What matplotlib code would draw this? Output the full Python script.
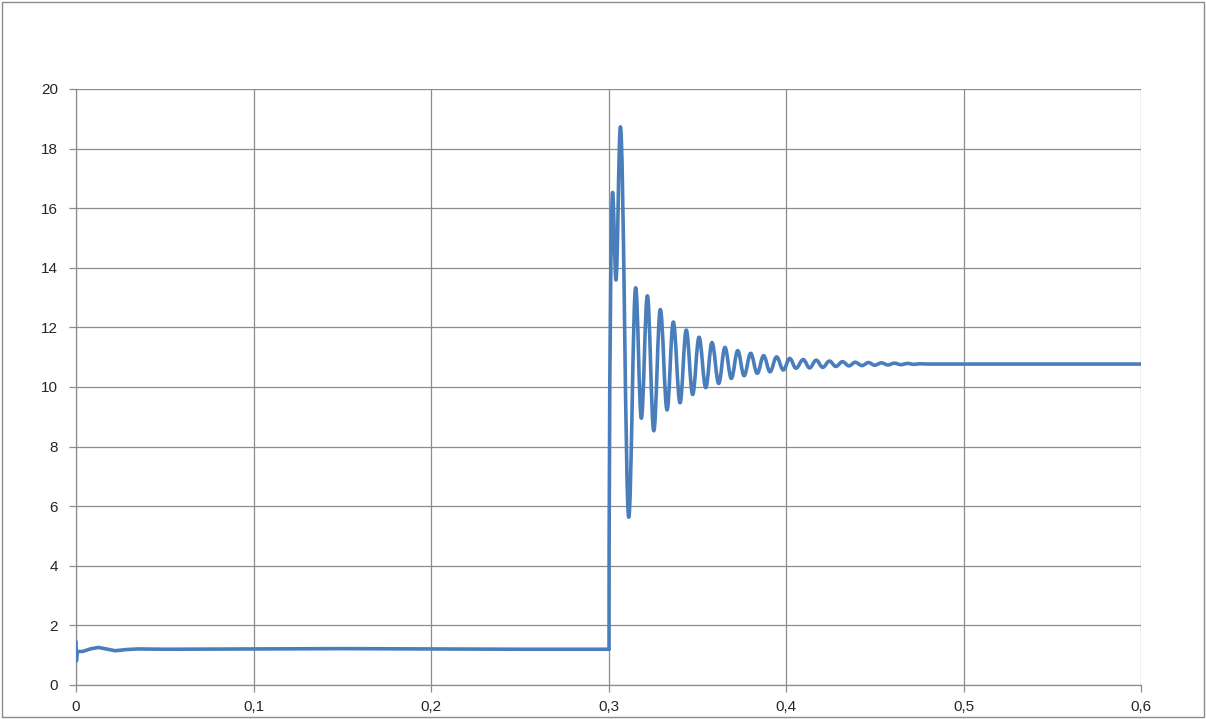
import matplotlib.pyplot as plt
from matplotlib.patches import Rectangle, PathPatch
from matplotlib.path import Path

# time (s) and value
t_start = [0.0, 0.0002, 0.0008, 0.004, 0.008, 0.0126, 0.017, 0.022, 0.0286,
           0.035, 0.05, 0.1, 0.15, 0.2, 0.25, 0.3003]
v_start = [1.45, 0.81, 1.12, 1.13, 1.21, 1.26, 1.21, 1.15, 1.19,
           1.21, 1.20, 1.21, 1.22, 1.21, 1.20, 1.20]

# extrema of the oscillation after the step at 0.3 s
t_osc = [0.3023, 0.3042, 0.3067, 0.3114, 0.3153, 0.3185, 0.3219, 0.3255,
         0.3292, 0.3330, 0.3365, 0.3403, 0.3438, 0.3474, 0.3510, 0.3548,
         0.3583, 0.3621, 0.3656, 0.3692, 0.3728, 0.3764, 0.3801, 0.3838,
         0.3874, 0.3910, 0.3947, 0.3985, 0.4021, 0.4056, 0.4097, 0.4133,
         0.4170, 0.4207, 0.4245, 0.4281, 0.4318, 0.4355, 0.4390, 0.4428,
         0.4465, 0.4500, 0.4537, 0.4575, 0.4610, 0.4648, 0.4685, 0.4720,
         0.4757, 0.48, 0.5, 0.55, 0.6]
v_osc = [16.53, 13.59, 18.73, 5.63, 13.33, 8.95, 13.06, 8.53,
         12.60, 9.23, 12.18, 9.47, 11.91, 9.75, 11.67, 9.98,
         11.49, 10.12, 11.33, 10.29, 11.22, 10.38, 11.13, 10.46,
         11.05, 10.51, 11.01, 10.57, 10.96, 10.63, 10.92, 10.64,
         10.90, 10.66, 10.87, 10.69, 10.85, 10.71, 10.83, 10.72,
         10.82, 10.73, 10.81, 10.74, 10.80, 10.75, 10.79, 10.76,
         10.78, 10.77, 10.77, 10.77, 10.77]

plt.rcParams['font.family'] = ['Liberation Sans', 'DejaVu Sans']

fig = plt.figure(figsize=(12.06, 7.19), dpi=100)
ax = fig.add_axes([76 / 1206, 1 - 685 / 719, 1065 / 1206, 596 / 719])

line_kw = dict(color='#4a7ebb', linewidth=2.6)

# flat part before the step, plain polyline
ax.plot(t_start, v_start, solid_joinstyle='round', solid_capstyle='round',
        zorder=3, **line_kw)

# ringing part: smooth curve through the extrema (flat tangent at each one)
verts = [(t_start[-1], v_start[-1])]
codes = [Path.MOVETO]
pts = list(zip(t_osc, v_osc))
prev = verts[0]
for i, (t1, v1) in enumerate(pts):
    t0, v0 = prev
    dt = t1 - t0
    if i == 0:
        c1 = (t0, v0 + 0.6 * (v1 - v0))  # vertical step up
    else:
        c1 = (t0 + 0.37 * dt, v0)
    c2 = (t1 - 0.37 * dt, v1)
    verts += [c1, c2, (t1, v1)]
    codes += [Path.CURVE4] * 3
    prev = (t1, v1)
ax.add_patch(PathPatch(Path(verts, codes), facecolor='none', edgecolor=line_kw['color'],
                       linewidth=line_kw['linewidth'], joinstyle='round',
                       capstyle='round', zorder=3))

ax.set_xlim(0, 0.6)
ax.set_ylim(0, 20)
ax.set_xticks([0, 0.1, 0.2, 0.3, 0.4, 0.5, 0.6])
ax.set_xticklabels(['0', '0,1', '0,2', '0,3', '0,4', '0,5', '0,6'])
ax.set_yticks(range(0, 21, 2))
ax.grid(True, color='#8c8c8c', linewidth=0.9)
ax.set_axisbelow(True)
for s in ['top', 'right']:
    ax.spines[s].set_visible(False)
for s in ['left', 'bottom']:
    ax.spines[s].set_color('#8c8c8c')
    ax.spines[s].set_linewidth(0.9)
ax.tick_params(axis='both', colors='#8c8c8c', length=5, width=0.9,
               labelsize=11, labelcolor='#262626')
ax.tick_params(axis='y', pad=8)
ax.tick_params(axis='x', pad=6)

# outer chart border
fig.patches.append(Rectangle((0.002, 0.003), 0.996, 0.994, transform=fig.transFigure,
                             fill=False, edgecolor='#8c8c8c', linewidth=1.0))

fig.savefig('out.png', dpi=100)
